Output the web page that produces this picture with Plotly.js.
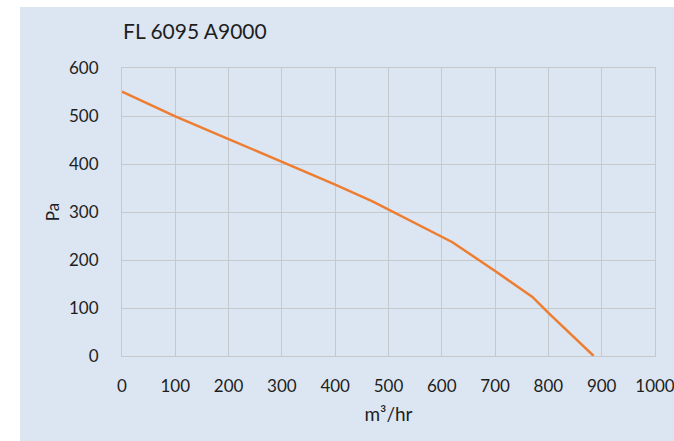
<!DOCTYPE html>
<html><head><meta charset="utf-8">
<script src="https://cdn.plot.ly/plotly-3.0.1.min.js"></script>
<style>
html,body{margin:0;padding:0;background:#ffffff;width:674px;height:441px;overflow:hidden;}
#chart{position:absolute;left:20px;top:7px;width:684px;height:434px;}
</style></head>
<body><div id="chart"></div>
<script>
const flow = [0, 100, 200, 300, 400, 470, 520, 620, 700, 770, 800, 885];
const pressure = [551, 499, 452, 405, 357, 322, 294, 237, 177, 123, 90, 0];
const xTicks = [0, 100, 200, 300, 400, 500, 600, 700, 800, 900, 1000];
const yTicks = [0, 100, 200, 300, 400, 500, 600];
const chartTitle = 'FL 6095 A9000';
const xTitle = 'm³/hr';
const yTitle = 'Pa';

const bg = '#dce6f2';
const grid = '#c6c9cc';
const font = 'Lato, "Open Sans", sans-serif';
const ink = '#1e1e1e';

Plotly.newPlot('chart', [{
  x: flow, y: pressure, type: 'scatter', mode: 'lines',
  line: {color: '#ed7d31', width: 2.5}, hoverinfo: 'skip'
}], {
  width: 684, height: 434,
  paper_bgcolor: bg, plot_bgcolor: bg,
  margin: {l: 102, r: 49, t: 61, b: 85},
  showlegend: false,
  font: {family: font, size: 17, color: ink},
  title: {text: chartTitle, x: 0, xref: 'paper', xanchor: 'left', y: 1, yref: 'container', yanchor: 'top', pad: {t: 17, l: 1},
          font: {family: font, size: 21, color: ink}},
  xaxis: {range: [0, 1000], tickvals: xTicks, ticktext: xTicks.map(String),
          showgrid: true, gridcolor: grid, gridwidth: 1, zeroline: false,
          showline: true, linecolor: grid, linewidth: 1, mirror: true,
          ticks: '', ticklabelstandoff: 15, fixedrange: true,
          title: {text: xTitle, standoff: 12, font: {family: font, size: 19, color: ink}}},
  yaxis: {range: [0, 600], tickvals: yTicks, ticktext: yTicks.map(String),
          showgrid: true, gridcolor: grid, gridwidth: 1, zeroline: false,
          showline: true, linecolor: grid, linewidth: 1, mirror: true,
          ticks: '', ticklabelstandoff: 19, fixedrange: true,
          title: {text: yTitle, standoff: 5, font: {family: font, size: 17, color: ink}}}
}, {displayModeBar: false, staticPlot: true});
</script></body></html>
